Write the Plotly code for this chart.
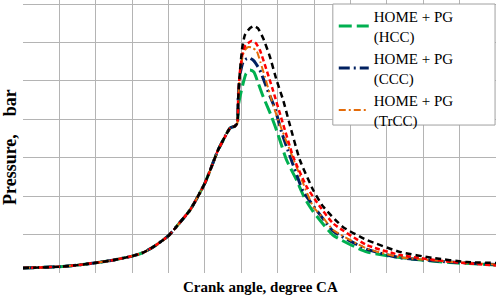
import plotly.graph_objects as go

# Shared compression part of the pressure curve (crank angle in deg, pressure in bar)
crank_common = [300, 305, 310, 315, 320, 325, 330, 333, 336, 340, 343, 346, 350, 353.6, 354.1, 356.9, 358.2, 358.9]
p_common = [1.3, 1.45, 1.65, 2.05, 2.65, 3.4, 4.4, 5.3, 6.9, 9.7, 13.0, 16.5, 23.4, 32.0, 32.9, 37.7, 38.2, 39.0]

# HOME + PG (HCC)
crank_hcc = [359.2, 359.94, 360.52, 361.26, 362.35, 363.46, 364.64, 366.01, 368.32, 370.13, 372.44, 375.18, 377.46, 379.75, 385.16, 394.41, 405.4, 417.3, 425.5, 430]
p_hcc = [43.7, 47.1, 49.4, 51.8, 52.8, 52.3, 49.4, 45.9, 40.7, 35.9, 29.4, 24.2, 19.4, 16.0, 9.9, 5.5, 3.8, 2.7, 2.34, 2.1]

# HOME + PG (CCC)
crank_ccc = [359.14, 359.61, 360.52, 361.53, 362.35, 363.46, 365.1, 367.38, 369.22, 371.15, 372.44, 376.09, 377.0, 382.96, 385.24, 394.41, 403.56, 417.3, 430]
p_ccc = [45.5, 51.5, 55.0, 55.8, 55.9, 55.2, 52.8, 47.2, 42.9, 36.4, 32.9, 23.3, 21.2, 13.5, 10.9, 6.2, 4.0, 2.86, 2.2]

# HOME + PG (TrCC)
crank_trcc = [359.14, 359.61, 360.43, 360.98, 361.94, 362.9, 364.2, 365.24, 366.48, 368.32, 370.13, 373.34, 377.0, 379.75, 382.96, 385.24, 394.41, 403.56, 417.3, 430]
p_trcc = [45.5, 51.5, 56.7, 58.0, 58.8, 58.7, 57.8, 54.9, 51.1, 45.0, 39.8, 32.0, 23.3, 17.3, 13.8, 11.2, 6.4, 4.1, 2.94, 2.2]

# Red dashed series (not listed in legend)
crank_red = [359.14, 359.61, 360.43, 361.18, 362.82, 364.0, 365.1, 366.94, 368.68, 371.15, 374.25, 377.93, 381.59, 385.24, 394.41, 403.56, 417.3, 430]
p_red = [45.5, 52.3, 57.5, 59.3, 60.4, 59.8, 58.0, 52.8, 47.6, 39.8, 30.3, 22.5, 17.3, 12.9, 7.3, 4.7, 2.94, 1.95]

# Black dashed series (not listed in legend)
crank_blk = [359.14, 359.61, 360.24, 360.98, 362.35, 363.46, 364.55, 366.01, 367.85, 369.69, 371.5, 373.07, 376.09, 379.75, 382.49, 387.9, 394.5, 403.56, 412.63, 421.97, 430]
p_blk = [45.5, 52.3, 58.5, 61.9, 63.7, 64.3, 63.7, 61.1, 56.3, 50.2, 45.0, 39.5, 29.4, 21.6, 17.3, 12.0, 8.6, 5.5, 3.9, 2.86, 2.6]

series = [
    ("HOME + PG<br>(HCC)", crank_hcc, p_hcc, "#00B050", 3, "13px,5px", True),
    ("HOME + PG<br>(CCC)", crank_ccc, p_ccc, "#002060", 3, "11px,4px,2px,4px", True),
    ("HOME + PG<br>(TrCC)", crank_trcc, p_trcc, "#E46C0A", 2, "7px,3px,2px,3px", True),
    ("Red", crank_red, p_red, "#FF0000", 2.5, "5px,3px", False),
    ("Black", crank_blk, p_blk, "#000000", 2.5, "6px,4px", False),
]

fig = go.Figure()
for name, cx, py, col, w, dash, show in series:
    fig.add_trace(go.Scatter(
        x=crank_common + cx, y=p_common + py, mode="lines", name=name,
        line=dict(color=col, width=w, dash=dash, shape="spline", smoothing=0.5),
        showlegend=show,
    ))

grid = "#B4B4B4"
serif = "Liberation Serif, Times New Roman, serif"
fig.update_layout(
    width=500, height=300,
    margin=dict(l=23, r=4, t=0, b=27),
    paper_bgcolor="white", plot_bgcolor="white",
    font=dict(family=serif, size=15, color="black"),
    xaxis=dict(range=[300, 430], tickmode="linear", dtick=10, tick0=300, showticklabels=False, ticks="",
               showgrid=True, gridcolor=grid, gridwidth=1, zeroline=False, showline=False),
    yaxis=dict(range=[0, 71.04], tickmode="linear", dtick=10, tick0=0, showticklabels=False, ticks="",
               showgrid=True, gridcolor=grid, gridwidth=1, zeroline=False, showline=False),
    legend=dict(x=0.657, y=1.0, xanchor="left", yanchor="top",
                bgcolor="rgba(0,0,0,0)", borderwidth=0,
                font=dict(family=serif, size=15),
                tracegroupgap=0),
    shapes=[dict(type="rect", xref="paper", yref="paper", x0=0.655, x1=0.998, y0=0.542, y1=0.9853,
                 fillcolor="white", line=dict(color="#A0A0A0", width=1), layer="above")],
    annotations=[
        dict(text="<b>Crank angle, degree CA</b>", xref="paper", yref="paper", x=0.503, y=-0.0513,
             xanchor="center", yanchor="middle", showarrow=False,
             font=dict(family=serif, size=15)),
        dict(text="<b>Pressure,\u00a0\u00a0\u00a0 bar</b>", xref="paper", yref="paper", x=-0.0275, y=0.4615,
             xanchor="center", yanchor="middle", textangle=-90, showarrow=False,
             font=dict(family=serif, size=18)),
    ],
)

fig.write_html("out.html", config={"displayModeBar": False},
               post_script="document.body.style.margin='0';")
